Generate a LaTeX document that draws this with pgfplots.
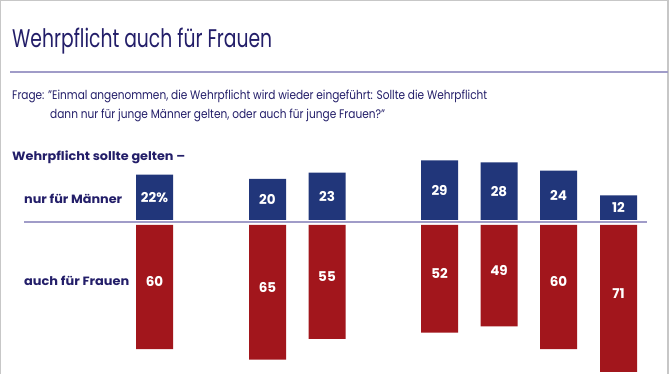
\documentclass[border=0pt]{standalone}
\usepackage{fontspec}
\setmainfont{Poppins}
\usepackage{graphicx}
\usepackage{pgfplots}
\usepackage{pgfplotstable}
\pgfplotsset{compat=1.18}
\definecolor{navy}{RGB}{35,30,105}
\definecolor{barblue}{RGB}{33,54,122}
\definecolor{barred}{RGB}{162,22,28}
\definecolor{rulec}{RGB}{160,156,200}
\pgfplotstableread{
x v lab
154.5 22 {22\%}
267.5 20 20
327 23 23
439.5 29 29
499 28 28
558.5 24 24
618.5 12 12
}\men
\pgfplotstableread{
x v lab
154.5 60 60
267.5 65 65
327 55 55
439.5 52 52
499 49 49
558.5 60 60
618.5 71 71
}\women
\begin{document}
\begin{tikzpicture}[x=1pt,y=1pt]
\path[fill=white] (0,0) rectangle (670,374);
\draw[black!22, line width=1.2pt] (0.6,0) -- (0.6,373.4) -- (668,373.4) -- (668,0);
\draw[rulec, line width=1.4pt] (10,302) -- (668,302);
\draw[rulec, line width=1.6pt] (24,152) -- (647,152);
\node[anchor=base west, inner sep=0, text=navy] at (12,326) {\resizebox{260pt}{\height}{\fontsize{25.5}{30}\selectfont Wehrpflicht auch für Frauen}};
\node[anchor=base west, inner sep=0, text=navy] at (12,274) {\resizebox{475pt}{\height}{\fontsize{12.4}{14}\selectfont Frage: \char34 Einmal angenommen, die Wehrpflicht wird wieder eingeführt: Sollte die Wehrpflicht}};
\node[anchor=base west, inner sep=0, text=navy] at (50,255) {\resizebox{335pt}{\height}{\fontsize{12.4}{14}\selectfont dann nur für junge Männer gelten, oder auch für junge Frauen?\char34}};
\node[anchor=base west, inner sep=0, text=navy] at (12,213) {\resizebox{173pt}{\height}{\fontsize{12}{14}\selectfont\bfseries Wehrpflicht sollte gelten –}};
\node[anchor=base west, inner sep=0, text=navy] at (24,170) {\resizebox{98pt}{\height}{\fontsize{12}{14}\selectfont\bfseries nur für Männer}};
\node[anchor=base west, inner sep=0, text=navy] at (24,88) {\resizebox{105pt}{\height}{\fontsize{12}{14}\selectfont\bfseries auch für Frauen}};
\begin{axis}[at={(0pt,154pt)}, anchor=south west, scale only axis, width=670pt, height=61.8pt,
  xmin=0, xmax=670, ymin=0, ymax=30, hide axis, clip=false]
\addplot[ybar, bar width=37pt, fill=barblue, draw=none] table[x=x,y=v]{\men};
\addplot[draw=none, mark=none, nodes near coords, point meta=explicit symbolic,
  every node near coord/.style={anchor=center, inner sep=0, text=white, font=\bfseries\fontsize{13.5}{15}\selectfont}]
  table[x=x, y expr=\thisrow{v}/2, meta=lab]{\men};
\end{axis}
\begin{axis}[at={(0pt,149pt)}, anchor=north west, scale only axis, width=670pt, height=148.8pt,
  xmin=0, xmax=670, ymin=0, ymax=71.9, y dir=reverse, hide axis, clip=false]
\addplot[ybar, bar width=37pt, fill=barred, draw=none] table[x=x,y=v]{\women};
\addplot[draw=none, mark=none, nodes near coords, point meta=explicit symbolic,
  every node near coord/.style={anchor=center, inner sep=0, text=white, font=\bfseries\fontsize{13.5}{15}\selectfont}]
  table[x=x, y expr=\thisrow{v}/2-2.5, meta=lab]{\women};
\end{axis}
\end{tikzpicture}
\end{document}
